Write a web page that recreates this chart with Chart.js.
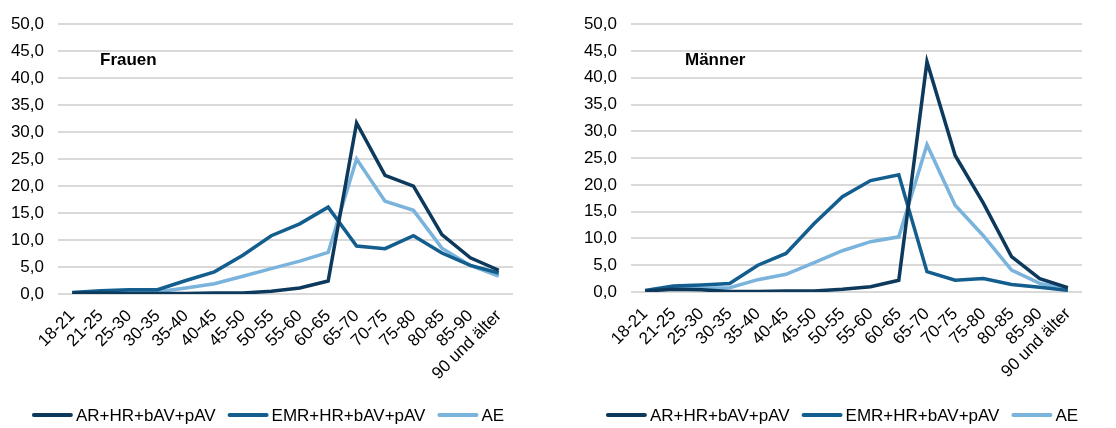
<!DOCTYPE html>
<html>
<head>
<meta charset="utf-8">
<script src="https://cdn.jsdelivr.net/npm/chart.js@4/dist/chart.umd.min.js"></script>
<style>
  html, body { margin: 0; padding: 0; background: #fff; }
  #wrap { position: relative; width: 1116px; height: 428px; }
  .cv { position: absolute; top: 0; width: 558px; height: 428px; }
</style>
</head>
<body>
<div id="wrap">
  <div class="cv" style="left:0"><canvas id="c1" width="558" height="428"></canvas></div>
  <div class="cv" style="left:558px"><canvas id="c2" width="558" height="428"></canvas></div>
</div>
<script>
const categories = ["18-21","21-25","25-30","30-35","35-40","40-45","45-50","50-55","55-60","60-65","65-70","70-75","75-80","80-85","85-90","90 und älter"];
const seriesNames = ["AR+HR+bAV+pAV", "EMR+HR+bAV+pAV", "AE"];
const yTicks = [0, 5, 10, 15, 20, 25, 30, 35, 40, 45, 50];

const frauenAR  = [0.2, 0.2, 0.1, 0.1, 0.1, 0.2, 0.2, 0.5, 1.1, 2.4, 31.7, 22.0, 20.0, 11.0, 6.7, 4.4];
const frauenEMR = [0.3, 0.6, 0.8, 0.8, 2.5, 4.1, 7.2, 10.8, 13.0, 16.1, 8.9, 8.4, 10.8, 7.6, 5.3, 3.9];
const frauenAE  = [0.1, 0.3, 0.4, 0.4, 1.1, 1.9, 3.3, 4.7, 6.1, 7.7, 25.0, 17.2, 15.5, 8.5, 5.3, 3.3];

const maennerAR  = [0.2, 0.5, 0.4, 0.1, 0.1, 0.2, 0.2, 0.5, 1.0, 2.2, 43.0, 25.5, 16.6, 6.6, 2.5, 0.8];
const maennerEMR = [0.3, 1.1, 1.3, 1.6, 5.0, 7.2, 12.8, 17.8, 20.8, 21.9, 3.8, 2.2, 2.5, 1.4, 0.9, 0.3];
const maennerAE  = [0.2, 0.6, 0.7, 0.8, 2.3, 3.3, 5.5, 7.7, 9.4, 10.3, 27.5, 16.2, 10.5, 4.1, 1.6, 0.5];

const colors = ["#0d3a5c", "#135e8f", "#7ab3dc"];
const FONT = "'Liberation Sans', Arial, sans-serif";

const titlePlugin = {
  id: 'panelTitle',
  afterDraw(chart, args, opts) {
    const ctx = chart.ctx;
    ctx.save();
    ctx.font = "bold 17px " + FONT;
    ctx.fillStyle = "#000";
    ctx.textBaseline = "middle";
    ctx.textAlign = "left";
    ctx.fillText(opts.text, chart.chartArea.left + opts.dx, opts.y);
    ctx.restore();
  }
};

const legendPlugin = {
  id: 'lineLegend',
  afterDraw(chart, args, opts) {
    const ctx = chart.ctx;
    ctx.save();
    ctx.font = "17px " + FONT;
    ctx.textBaseline = "middle";
    ctx.textAlign = "left";
    const items = chart.data.datasets.map(ds => ({
      text: ds.label, color: ds.borderColor, w: opts.lineLen + opts.gap + ctx.measureText(ds.label).width
    }));
    const total = items.reduce((s, it) => s + it.w, 0) + opts.spacing * (items.length - 1);
    let x = opts.cx - total / 2;
    const y = opts.y;
    items.forEach(it => {
      ctx.strokeStyle = it.color;
      ctx.lineWidth = 4;
      ctx.lineCap = "round";
      ctx.beginPath();
      ctx.moveTo(x + 2, y);
      ctx.lineTo(x + opts.lineLen - 2, y);
      ctx.stroke();
      ctx.fillStyle = "#000";
      ctx.fillText(it.text, x + opts.lineLen + opts.gap, y + 1);
      x += it.w + opts.spacing;
    });
    ctx.restore();
  }
};

function makeChart(id, data, title, geom) {
  const sets = data.map((d, i) => ({
    label: seriesNames[i],
    data: d,
    borderColor: colors[i],
    backgroundColor: colors[i],
    borderWidth: 3.5,
    pointRadius: 0,
    tension: 0,
    fill: false
  }));
  return new Chart(document.getElementById(id), {
    type: 'line',
    data: { labels: categories, datasets: sets },
    plugins: [titlePlugin, legendPlugin],
    options: {
      responsive: false,
      animation: false,
      layout: { padding: { top: geom.top, left: 0, right: geom.right, bottom: 428 - geom.bottom - 100 } },
      plugins: {
        legend: { display: false },
        tooltip: { enabled: false },
        panelTitle: { text: title, dx: geom.titleDx, y: 60 },
        lineLegend: { cx: geom.legendCx, y: 415, lineLen: 41, gap: 3, spacing: 12 }
      },
      scales: {
        x: {
          offset: true,
          grid: { display: false, drawTicks: false },
          border: { display: false },
          ticks: {
            autoSkip: false,
            maxRotation: 45, minRotation: 45,
            padding: 12,
            color: "#000",
            font: { size: 17, family: FONT }
          },
          afterFit(scale) { scale.height = 100; }
        },
        y: {
          min: 0, max: 50,
          afterBuildTicks(scale) { scale.ticks = yTicks.map(v => ({ value: v })); },
          grid: { color: "#d9d9d9", lineWidth: 2, drawTicks: false },
          border: { display: false },
          ticks: {
            padding: 14,
            color: "#000",
            font: { size: 17, family: FONT },
            callback: v => v.toFixed(1).replace('.', ',')
          },
          afterFit(scale) { scale.width = geom.axisW; }
        }
      }
    }
  });
}

makeChart('c1', [frauenAR, frauenEMR, frauenAE], 'Frauen',
  { top: 21, bottom: 294, right: 45, axisW: 58, titleDx: 42, legendCx: 268 });
makeChart('c2', [maennerAR, maennerEMR, maennerAE], 'Männer',
  { top: 19, bottom: 292, right: 34, axisW: 73, titleDx: 54, legendCx: 284 });
</script>
</body>
</html>
